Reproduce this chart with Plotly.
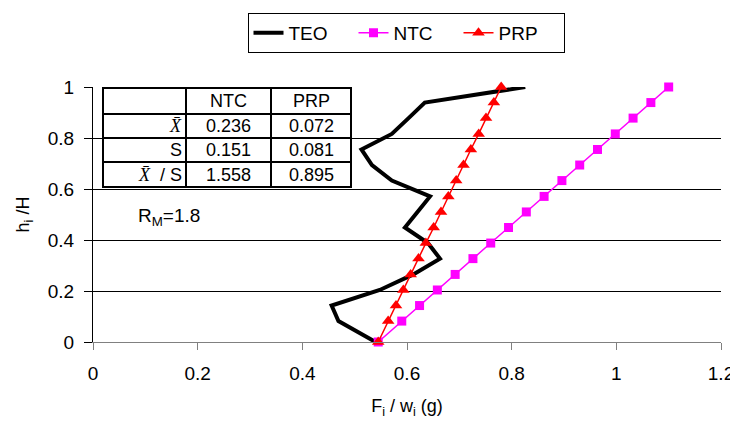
import plotly.graph_objects as go

# Relative heights h_i/H (16 storeys, taller ground storey)
h_levels = [0, 0.082, 0.143, 0.204, 0.265, 0.327, 0.388, 0.449, 0.510,
            0.571, 0.633, 0.694, 0.755, 0.816, 0.878, 0.939, 1.0]
teo_x = [0.540, 0.469, 0.456, 0.548, 0.612, 0.663, 0.640, 0.596, 0.620,
         0.644, 0.571, 0.533, 0.513, 0.571, 0.603, 0.634, 0.826]
ntc_x = [0.545, 0.590, 0.624, 0.658, 0.692, 0.726, 0.760, 0.794, 0.828,
         0.862, 0.896, 0.930, 0.964, 0.998, 1.032, 1.066, 1.100]
prp_x = [0.545, 0.564, 0.579, 0.593, 0.607, 0.622, 0.636, 0.651, 0.665,
         0.679, 0.694, 0.708, 0.722, 0.737, 0.751, 0.766, 0.780]

x_ticks = [0, 0.2, 0.4, 0.6, 0.8, 1, 1.2]
x_tick_labels = ["0", "0.2", "0.4", "0.6", "0.8", "1", "1.2"]
y_ticks = [0, 0.2, 0.4, 0.6, 0.8, 1]
y_tick_labels = ["0", "0.2", "0.4", "0.6", "0.8", "1"]

table_header = ["", "NTC", "PRP"]
table_rows = ["X\u0304", "S", "X\u0304 / S"]
table_ntc = ["0.236", "0.151", "1.558"]
table_prp = ["0.072", "0.081", "0.895"]
rm_text = "R<sub>M</sub>=1.8"

FONT = "Liberation Sans, Arial, sans-serif"
OFF = 8  # page body margin
W, H = 738 - OFF, 423 - OFF
L, R, T, B = 93 - OFF, 721 - OFF, 87 - OFF, 342 - OFF  # plot area in px

fig = go.Figure()
fig.add_trace(go.Scatter(x=teo_x, y=h_levels, mode="lines", name="TEO",
                         line=dict(color="black", width=4), cliponaxis=False))
fig.add_trace(go.Scatter(x=ntc_x, y=h_levels, mode="lines+markers", name="NTC",
                         line=dict(color="#FF00FF", width=1.5),
                         marker=dict(symbol="square", size=9, color="#FF00FF"),
                         cliponaxis=False))
fig.add_trace(go.Scatter(x=prp_x, y=h_levels, mode="lines+markers", name="PRP",
                         line=dict(color="#FF0000", width=1.5),
                         marker=dict(symbol="triangle-up", size=11, color="#FF0000"),
                         cliponaxis=False))

def px2x(px):
    return (px - OFF - L) / (R - L)

def px2y(py):
    return (B - (py - OFF)) / (B - T)

shapes = []
annotations = []
# table geometry in reference px
col_edges = [103, 186, 271, 351]
row_edges = [88, 114, 138, 162, 187]
shapes.append(dict(type="rect", xref="paper", yref="paper",
                   x0=px2x(col_edges[0]), x1=px2x(col_edges[-1]),
                   y0=px2y(row_edges[-1]), y1=px2y(row_edges[0]),
                   fillcolor="white", line=dict(color="black", width=2), layer="above"))
for cx in col_edges[1:-1]:
    shapes.append(dict(type="line", xref="paper", yref="paper",
                       x0=px2x(cx), x1=px2x(cx), y0=px2y(row_edges[-1]), y1=px2y(row_edges[0]),
                       line=dict(color="black", width=2), layer="above"))
for ry in row_edges[1:-1]:
    shapes.append(dict(type="line", xref="paper", yref="paper",
                       x0=px2x(col_edges[0]), x1=px2x(col_edges[-1]), y0=px2y(ry), y1=px2y(ry),
                       line=dict(color="black", width=2), layer="above"))

TFS = 18

def cell_text(text, ci, ri, align="center"):
    x0, x1 = col_edges[ci], col_edges[ci + 1]
    yc = (row_edges[ri] + row_edges[ri + 1]) / 2
    if align == "center":
        xa, xanchor = (x0 + x1) / 2, "center"
    else:
        xa, xanchor = x1 - 2, "right"
    annotations.append(dict(xref="paper", yref="paper", x=px2x(xa), y=px2y(yc),
                            xanchor=xanchor, yanchor="middle", showarrow=False,
                            text=text, font=dict(family=FONT, size=TFS, color="black")))

cell_text(table_header[1], 1, 0)
cell_text(table_header[2], 2, 0)
row_html = ["<i><span style='font-family:Liberation Serif'>X\u0304</span></i>",
            "S",
            "<i><span style='font-family:Liberation Serif'>X\u0304</span></i>  / S"]
for i in range(3):
    cell_text(row_html[i], 0, i + 1, align="right")
    cell_text(table_ntc[i], 1, i + 1)
    cell_text(table_prp[i], 2, i + 1)

annotations.append(dict(xref="paper", yref="paper", x=px2x(136), y=px2y(217),
                        xanchor="left", yanchor="middle", showarrow=False,
                        text=rm_text, font=dict(family=FONT, size=19, color="black")))

fig.update_layout(
    width=W, height=H,
    margin=dict(l=L, r=W - R, t=T, b=H - B, autoexpand=False),
    paper_bgcolor="white", plot_bgcolor="white",
    font=dict(family=FONT, size=18, color="black"),
    shapes=shapes, annotations=annotations,
    showlegend=True,
    legend=dict(orientation="h", x=px2x(406), xanchor="center", y=px2y(13), yanchor="top",
                bordercolor="black", borderwidth=1, bgcolor="white",
                font=dict(family=FONT, size=19, color="black"),
                itemwidth=30, tracegroupgap=0, entrywidth=60, entrywidthmode="pixels"),
    xaxis=dict(range=[0, 1.2], tickvals=x_ticks, ticktext=x_tick_labels,
               showgrid=False, zeroline=False, showline=True, linecolor="#808080", linewidth=1,
               ticks="outside", ticklen=7, tickcolor="#808080",
               tickfont=dict(size=19), ticklabelstandoff=7,
               title=dict(text="F<sub>i</sub> / w<sub>i</sub> (g)", font=dict(size=18), standoff=16)),
    yaxis=dict(range=[0, 1], tickvals=y_ticks, ticktext=y_tick_labels,
               showgrid=True, gridcolor="black", gridwidth=1, zeroline=False,
               showline=True, linecolor="black", linewidth=1,
               ticks="outside", ticklen=8, tickcolor="black",
               tickfont=dict(size=19), ticklabelstandoff=6,
               title=dict(text="h<sub>i</sub> /H", font=dict(size=18), standoff=13)),
)

fig.write_html("out.html")
